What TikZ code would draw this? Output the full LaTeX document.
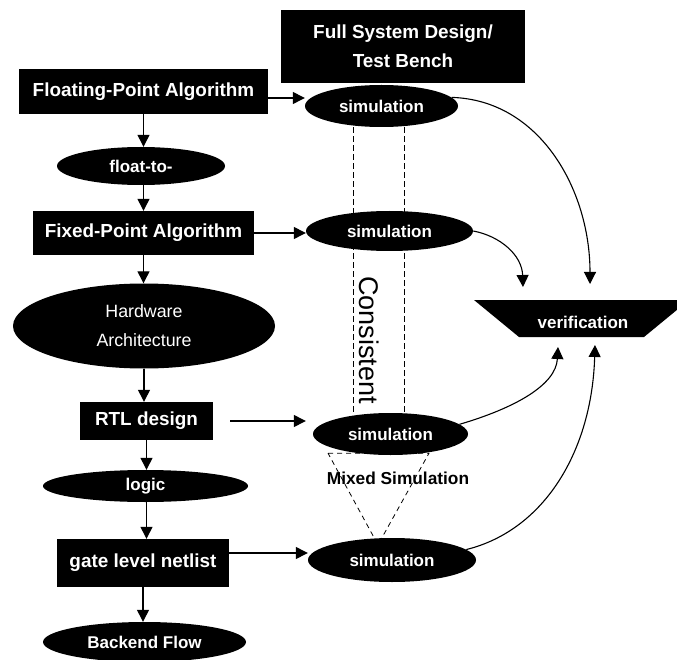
\documentclass[tikz,border=0pt]{standalone}
\usepackage{fontspec}
\setmainfont{Liberation Sans}
\usetikzlibrary{arrows.meta,shapes.geometric,calc}
\pgfdeclarelayer{bg}
\pgfsetlayers{bg,main}
\begin{document}
\begin{tikzpicture}[x=1pt,y=-1pt,
  blk/.style={fill=black,text=white,inner sep=0pt,align=center},
  bx/.style={blk,rectangle,font=\fontsize{18.9}{29}\selectfont\bfseries},
  el/.style={blk,ellipse,font=\fontsize{17}{29}\selectfont\bfseries},
  arr/.style={line width=1.3pt,-{Triangle[length=12pt,width=12pt]}},
  carr/.style={line width=1.1pt,-{Triangle[length=12pt,width=12pt]}},
  dsh/.style={dash pattern=on 6pt off 3pt,line width=1pt},
  tdsh/.style={dash pattern=on 5pt off 4pt,line width=0.8pt}]
\useasboundingbox (0,0) rectangle (677,660);
\clip (0,0) rectangle (677,660);

\node[bx,minimum width=244pt,minimum height=73pt] (fsd) at (403,46.5) {Full System Design/\\Test Bench};
\node[bx,minimum width=249pt,minimum height=45pt] (flt) at (143.5,91.5) {Floating-Point Algorithm};
\node[el,minimum width=153pt,minimum height=42pt] (sim1) at (381.5,106) {simulation};
\node[el,minimum width=168pt,minimum height=38pt] (f2f) at (141,166) {float-to-};
\node[bx,minimum width=221pt,minimum height=44pt] (fix) at (143.5,233) {Fixed-Point Algorithm};
\node[el,minimum width=167pt,minimum height=40pt] (sim2) at (389.5,231) {simulation};
\node[el,minimum width=262pt,minimum height=85pt,font=\fontsize{17.8}{29}\selectfont] (hw) at (144,326) {Hardware\\Architecture};
\node[bx,minimum width=133pt,minimum height=38pt] (rtl) at (146.5,421) {RTL design};
\node[el,minimum width=155pt,minimum height=42pt] (sim3) at (390.5,434) {simulation};
\node[el,minimum width=205pt,minimum height=32pt] (logic) at (145.5,486) {logic};
\node[bx,minimum width=172pt,minimum height=48pt] (gate) at (143,563) {gate level netlist};
\node[el,minimum width=168pt,minimum height=44pt] (sim4) at (392,560) {simulation};
\node[el,minimum width=203pt,minimum height=40pt] (back) at (144.5,642) {Backend Flow};

\fill (474,300) -- (689,300) -- (644,337) -- (519,337) -- cycle;
\node[text=white,inner sep=0pt,font=\fontsize{17}{20}\selectfont\bfseries] (verif) at (583,322) {verification};
\coordinate (vt1) at (523,287);
\coordinate (vt2) at (590,284);
\coordinate (vb1) at (558,347);
\coordinate (vb2) at (595,345);

\node[inner sep=0pt,rotate=-90,font=\fontsize{27}{27}\selectfont] (cons) at (369,340) {Consistent};
\node[inner sep=0pt,font=\fontsize{17.3}{20}\selectfont\bfseries] (mixed) at (398,478) {Mixed Simulation};

\begin{pgfonlayer}{bg}
\draw[dsh] ($(sim1.south)+(-28.5,0)$) -- ($(sim3.north)+(-37.5,0)$);
\draw[dsh] ($(sim1.south)+(22.5,0)$) -- ($(sim3.north)+(13.5,0)$);
\draw[tdsh] ($(sim3.south)+(-62.5,-2)$) -- ($(sim3.south)+(38.5,-2)$) -- ($(sim4.north)+(-14,7)$) -- cycle;
\end{pgfonlayer}

% horizontal arrows
\draw[arr] ([yshift=-6.5pt]flt.east) -- ([yshift=-6.5pt]flt.east -| sim1.west);
\draw[arr] (fix.east) -- (fix.east -| sim2.west);
\draw[arr,shorten <=17pt,shorten >=7pt] (rtl.east) -- (rtl.east -| sim3.west);
\draw[arr] ([yshift=10pt]gate.east) -- ([yshift=10pt]gate.east -| sim4.west);

% vertical arrows
\draw[arr] (flt.south) -- (flt.south |- f2f.north);
\draw[arr] (f2f.south -| flt.south) -- (flt.south |- fix.north);
\draw[arr] (fix.south) -- (fix.south |- hw.north);
\draw[arr] (hw.south) -- (hw.south |- rtl.north);
\draw[arr] (rtl.south) -- (rtl.south |- logic.north);
\draw[arr] (logic.south -| rtl.south) -- (rtl.south |- gate.north);
\draw[arr] (gate.south) -- (gate.south |- back.north);

% curves to verification
\draw[carr] (sim1.7) .. controls (540,100) and (590,190) .. (vt2);
\draw[carr] (sim2.east) .. controls (500,236) and (522,255) .. (vt1);
\draw[carr] (sim3.8) .. controls (515,408) and (556,385) .. (vb1);
\draw[carr] (sim4.8) .. controls (545,530) and (592,450) .. (vb2);
\end{tikzpicture}
\end{document}
